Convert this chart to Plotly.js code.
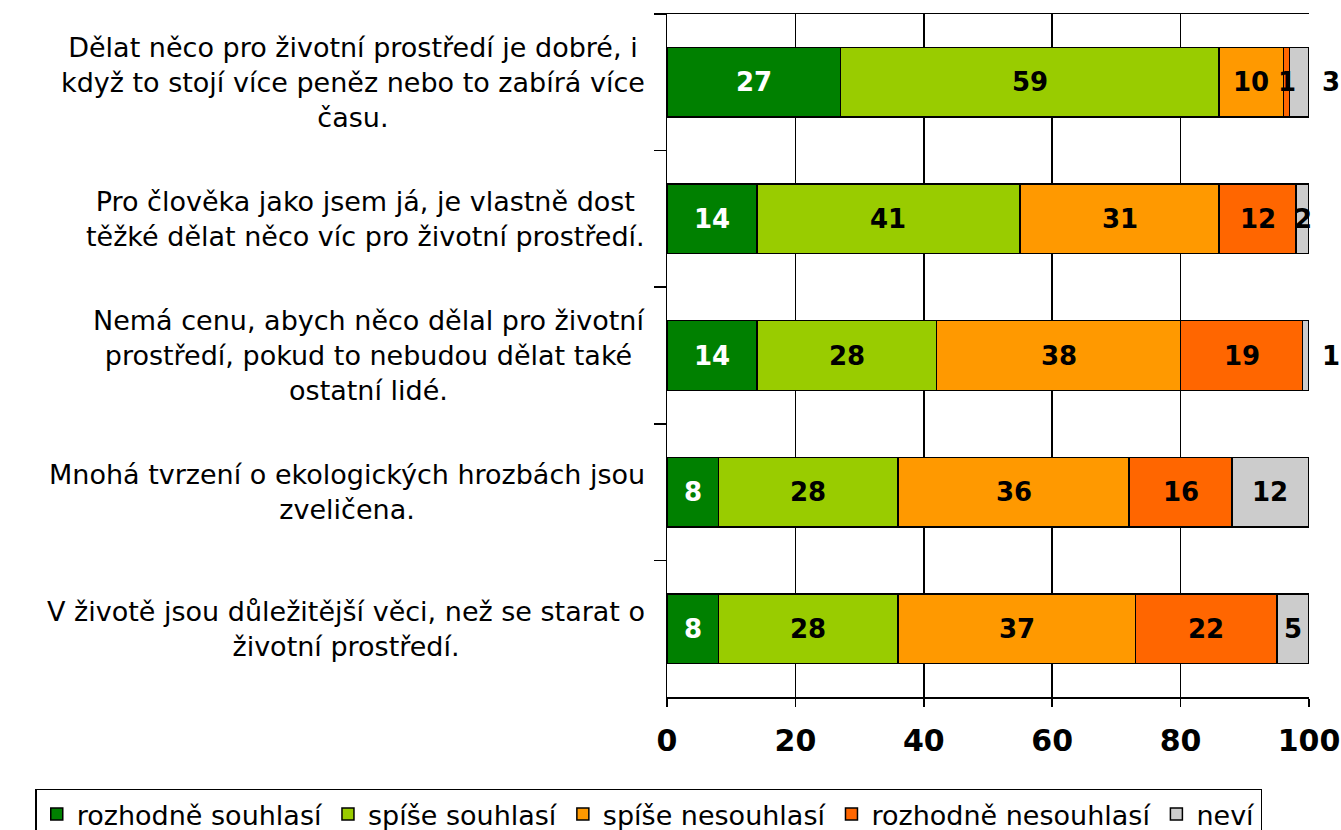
<!DOCTYPE html>
<html>
<head>
<meta charset="utf-8">
<script src="https://cdn.plot.ly/plotly-3.0.1.min.js"></script>
<style>html,body{margin:0;padding:0;background:#fff;}#chart{width:1341px;height:830px;}</style>
</head>
<body>
<div id="chart"></div>
<script>
const categories = [
  "Dělat něco pro životní prostředí je dobré, i<br>když to stojí více peněz nebo to zabírá více<br>času.",
  "Pro člověka jako jsem já, je vlastně dost<br>těžké dělat něco víc pro životní prostředí.",
  "Nemá cenu, abych něco dělal pro životní<br>prostředí, pokud to nebudou dělat také<br>ostatní lidé.",
  "Mnohá tvrzení o ekologických hrozbách jsou<br>zveličena.",
  "V životě jsou důležitější věci, než se starat o<br>životní prostředí."
];
const seriesNames = ["rozhodně souhlasí", "spíše souhlasí", "spíše nesouhlasí", "rozhodně nesouhlasí", "neví"];
const rozhodneSouhlasi = [27, 14, 14, 8, 8];
const spiseSouhlasi = [59, 41, 28, 28, 28];
const spiseNesouhlasi = [10, 31, 38, 36, 37];
const rozhodneNesouhlasi = [1, 12, 19, 16, 22];
const nevi = [3, 2, 1, 12, 5];
const xTicks = [0, 20, 40, 60, 80, 100];

const seriesValues = [rozhodneSouhlasi, spiseSouhlasi, spiseNesouhlasi, rozhodneNesouhlasi, nevi];
const colors = ["#008000", "#99CC00", "#FF9900", "#FF6600", "#CCCCCC"];
const textColors = ["#FFFFFF", "#000000", "#000000", "#000000", "#000000"];
const FONT = "DejaVu Sans, Verdana, sans-serif";

const traces = seriesValues.map((vals, i) => ({
  type: "bar",
  orientation: "h",
  name: seriesNames[i],
  y: categories,
  x: vals,
  marker: {color: colors[i], line: {color: "#000000", width: 1.5}},
  textposition: "none",
  hoverinfo: "x+name"
}));

const annotations = [];
categories.forEach((cat, ci) => {
  let cum = 0;
  seriesValues.forEach((vals, si) => {
    const v = vals[ci];
    const mid = cum + v / 2;
    cum += v;
    const isLast = si === seriesValues.length - 1;
    const prev = si > 0 ? seriesValues[si - 1][ci] : 10;
    const outside = isLast && (v < 2 || prev < 2);
    annotations.push({
      xref: "x", yref: "y",
      x: outside ? cum : mid, y: cat,
      xanchor: outside ? "left" : "center",
      xshift: outside ? 11 : 0,
      text: String(v), showarrow: false,
      font: {family: FONT, size: 26, color: textColors[si], weight: "bold"}
    });
  });
  annotations.push({
    xref: "paper", yref: "y",
    x: 0, y: cat, xanchor: "right", xshift: -20,
    align: "center", text: cat, showarrow: false,
    font: {family: FONT, size: 27, color: "#000000"}
  });
});

const layout = {
  width: 1341, height: 830,
  margin: {l: 667, r: 32, t: 14, b: 133, autoexpand: false},
  paper_bgcolor: "#FFFFFF", plot_bgcolor: "#FFFFFF",
  barmode: "stack",
  bargap: 0.49,
  showlegend: true,
  font: {family: FONT, color: "#000000"},
  xaxis: {
    range: [0, 100], tickvals: xTicks, ticktext: xTicks.map(String),
    showgrid: true, gridcolor: "#000000", gridwidth: 1.5,
    showline: true, linecolor: "#000000", linewidth: 1.5, mirror: true,
    ticks: "outside", ticklen: 8, tickcolor: "#000000", tickwidth: 1.5,
    ticklabelstandoff: 8,
    zeroline: false,
    tickfont: {family: FONT, size: 30, color: "#000000", weight: "bold"},
    fixedrange: true
  },
  yaxis: {
    type: "category", autorange: "reversed",
    showticklabels: false,
    ticks: "outside", tickson: "boundaries", ticklen: 12, tickcolor: "#000000", tickwidth: 1.5,
    showline: true, linecolor: "#000000", linewidth: 1.5,
    showgrid: false, zeroline: false, fixedrange: true
  },
  legend: {
    orientation: "h",
    x: -0.984, xanchor: "left", y: -0.134, yanchor: "top",
    bordercolor: "#000000", borderwidth: 1.5, bgcolor: "#FFFFFF",
    font: {family: FONT, size: 27, color: "#000000"},
    traceorder: "normal", itemwidth: 30, tracegroupgap: 0
  },
  annotations: annotations
};

Plotly.newPlot("chart", traces, layout, {displayModeBar: false, staticPlot: true});
</script>
</body>
</html>
